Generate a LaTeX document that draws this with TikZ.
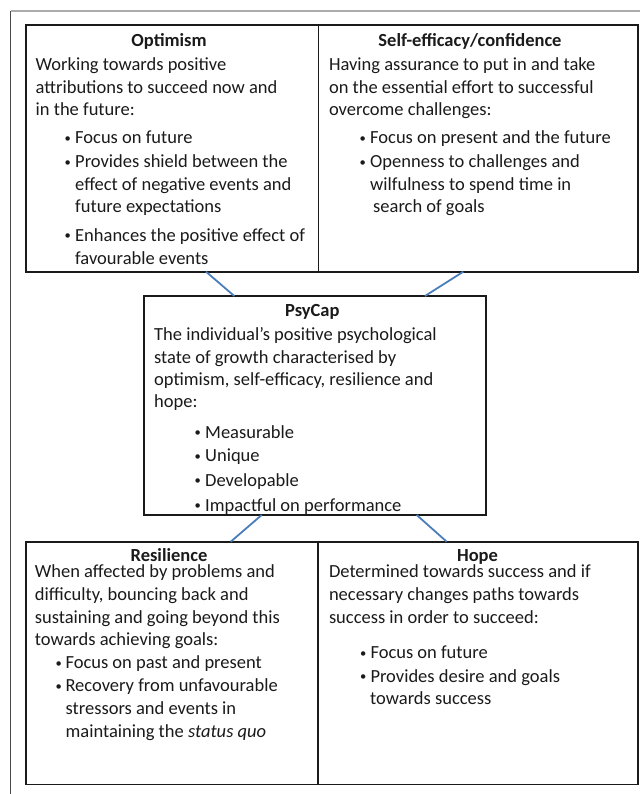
\documentclass[tikz,border=0pt]{standalone}
\usepackage{graphicx}
\usepackage{fontspec}
\setmainfont{Carlito}
\usetikzlibrary{calc}
\definecolor{linkblue}{HTML}{4A7EBB}
\definecolor{ink}{HTML}{1A1A1A}
\newcommand{\bodyfont}{\fontsize{18.5}{22.5}\selectfont}
\newcommand{\bul}[1]{\makebox[#1][l]{\raisebox{1.3pt}{\scalebox{0.68}{\textbullet}}}}
\begin{document}
\begin{tikzpicture}[x=1pt,y=-1pt,
  box/.style={draw=ink, line width=1.7pt, inner sep=0pt, outer sep=0pt, anchor=north west},
  ln/.style={anchor=base west, inner sep=0pt, font=\bodyfont, text=ink},
  ttl/.style={anchor=base, inner sep=0pt, font=\bodyfont\bfseries, text=ink},
  link/.style={draw=linkblue, line width=1.8pt}]
\useasboundingbox (0,0) rectangle (640,794);

% page frame
\draw[gray!65, line width=1.5pt] (10.5,11) -- (640,11);
\draw[black!70, line width=0.9pt] (10.5,11) -- (10.5,794);

% boxes
\node[box, minimum width=292.8pt, minimum height=246.4pt] (opt) at (25.7,25.3) {};
\node[box, minimum width=319.2pt, minimum height=246.4pt] (self) at (318.5,25.3) {};
\node[box, minimum width=341.9pt, minimum height=219pt] (psy) at (144.2,296) {};
\node[box, minimum width=292.3pt, minimum height=242.8pt] (res) at (25.7,541.7) {};
\node[box, minimum width=319.7pt, minimum height=242.8pt] (hope) at (318,541.7) {};

% connectors
\draw[link] ($(opt.south west)+(180.3,0)$) -- ($(psy.north west)+(90.1,0)$);
\draw[link] ($(self.south west)+(144.8,0)$) -- ($(psy.north west)+(280.8,0)$);
\draw[link] ($(psy.south west)+(117.5,0)$) -- ($(res.north west)+(205,0)$);
\draw[link] ($(psy.south west)+(272.5,0)$) -- ($(hope.north west)+(128.7,0)$);

% Optimism
\node[ttl] (optT) at (169,46.7) {Optimism};
\node[ln] (opt1) at (35.5,71) {Working towards positive};
\node[ln] (opt2) at (35.5,93.3) {attributions to succeed now and};
\node[ln] (opt3) at (35.5,116) {in the future:};
\node[ln] (opt4) at (64.5,144) {\bul{10.5pt}Focus on future};
\node[ln] (opt5) at (64.5,168) {\bul{10.5pt}Provides shield between the};
\node[ln] (opt6) at (75,191) {effect of negative events and};
\node[ln] (opt7) at (75,213) {future expectations};
\node[ln] (opt8) at (64.5,241) {\bul{10.5pt}Enhances the positive effect of};
\node[ln] (opt9) at (75,264) {favourable events};

% Self-efficacy
\node[ttl] (selfT) at (470,46.7) {Self-efficacy/confidence};
\node[ln] (self1) at (328.8,71) {Having assurance to put in and take};
\node[ln] (self2) at (328.8,93.3) {on the essential effort to successful};
\node[ln] (self3) at (328.8,116) {overcome challenges:};
\node[ln] (self4) at (359.5,144) {\bul{10.5pt}Focus on present and the future};
\node[ln] (self5) at (359.5,168) {\bul{10.5pt}Openness to challenges and};
\node[ln] (self6) at (370,191) {wilfulness to spend time in};
\node[ln] (self7) at (373,213) {search of goals};

% PsyCap
\node[ttl] (psyT) at (312.3,316.7) {PsyCap};
\node[ln] (psy1) at (154,340) {The individual’s positive psychological};
\node[ln] (psy2) at (154,363) {state of growth characterised by};
\node[ln] (psy3) at (154,385) {optimism, self-efficacy, resilience and};
\node[ln] (psy4) at (154,407.7) {hope:};
\node[ln] (psy5) at (194.5,438) {\bul{10.5pt}Measurable};
\node[ln] (psy6) at (194.5,461.7) {\bul{10.5pt}Unique};
\node[ln] (psy7) at (194.5,486) {\bul{10.5pt}Developable};
\node[ln] (psy8) at (194.5,511) {\bul{10.5pt}Impactful on performance};

% Resilience
\node[ttl] (resT) at (169,561) {Resilience};
\node[ln] (res1) at (34.7,577.7) {When affected by problems and};
\node[ln] (res2) at (34.7,600) {difficulty, bouncing back and};
\node[ln] (res3) at (34.7,623.3) {sustaining and going beyond this};
\node[ln] (res4) at (34.7,645.3) {towards achieving goals:};
\node[ln] (res5) at (55.3,668.7) {\bul{10pt}Focus on past and present};
\node[ln] (res6) at (55.3,691.7) {\bul{10pt}Recovery from unfavourable};
\node[ln] (res7) at (65.5,714.3) {stressors and events in};
\node[ln] (res8) at (65.5,737.7) {maintaining the \textit{status quo}};

% Hope
\node[ttl] (hopeT) at (477.5,561) {Hope};
\node[ln] (hope1) at (328.8,577.7) {Determined towards success and if};
\node[ln] (hope2) at (328.8,600) {necessary changes paths towards};
\node[ln] (hope3) at (328.8,623.3) {success in order to succeed:};
\node[ln] (hope4) at (359.8,658.7) {\bul{10.5pt}Focus on future};
\node[ln] (hope5) at (359.8,682) {\bul{10.5pt}Provides desire and goals};
\node[ln] (hope6) at (370,704.3) {towards success};
\end{tikzpicture}
\end{document}
